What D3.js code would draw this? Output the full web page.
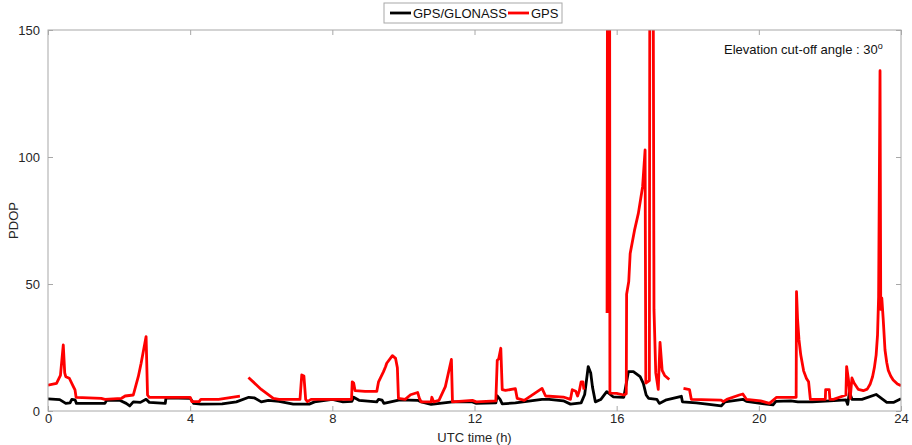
<!DOCTYPE html>
<html>
<head>
<meta charset="utf-8">
<script src="https://cdn.jsdelivr.net/npm/d3@7"></script>
<style>
  body { margin: 0; background: #fff; }
  text { font-family: "Liberation Sans", Arial, sans-serif; }
</style>
</head>
<body>
<script>
// PDOP over one day (hours, PDOP); null = data gap
var xTicks = [0, 4, 8, 12, 16, 20, 24];
var yTicks = [0, 50, 100, 150];
var seriesNames = ["GPS/GLONASS", "GPS"];
var seriesColors = ["#000000", "#ff0000"];

var gpsGlonass = [
  [0, 4.8], [0.33, 4.5], [0.5, 3.0], [0.62, 3.2], [0.67, 4.6], [0.76, 4.4], [0.8, 3.0],
  [1.6, 3.0], [1.65, 4.2], [2.0, 4.3], [2.2, 3.0], [2.3, 2.0], [2.4, 3.6], [2.6, 3.4],
  [2.76, 4.6], [2.85, 3.4], [3.3, 3.0], [3.32, 5.2], [4.0, 5.0], [4.1, 3.0], [4.3, 2.7],
  [4.9, 2.8], [5.3, 3.6], [5.65, 5.4], [5.8, 5.2], [6.0, 3.6], [6.2, 4.2], [6.5, 3.8],
  [6.9, 2.7], [7.35, 2.7], [7.5, 3.6], [8.0, 4.6], [8.3, 3.6], [8.55, 3.8], [8.6, 5.4],
  [8.75, 4.2], [9.25, 3.6], [9.3, 4.6], [9.4, 4.3], [9.45, 3.0], [9.9, 4.4], [10.4, 4.2],
  [10.5, 3.6], [10.78, 2.6], [11.38, 3.6], [11.94, 3.6], [12.05, 3.0], [12.6, 3.2],
  [12.64, 6.0], [12.72, 4.6], [12.78, 2.8], [13.15, 3.2], [13.9, 4.6], [14.1, 4.6],
  [14.5, 4.0], [14.7, 2.7], [15.0, 3.2], [15.1, 6.5], [15.2, 17.5], [15.27, 15.0],
  [15.32, 9.4], [15.4, 3.6], [15.55, 4.5], [15.72, 7.6], [15.9, 5.6], [16.2, 5.4],
  [16.33, 15.5], [16.47, 15.5], [16.66, 13.5], [16.75, 10.9], [16.83, 6.3], [16.9, 5.0],
  [17.13, 4.6], [17.2, 3.0], [17.4, 4.4], [17.82, 5.8], [17.85, 3.6], [18.24, 3.2],
  [18.6, 2.6], [18.94, 2.0], [19.05, 3.6], [19.55, 4.6], [19.65, 3.8], [20.05, 3.0],
  [20.4, 2.4], [20.48, 3.8], [20.9, 4.0], [21.1, 3.6], [21.5, 3.6], [22.0, 4.0],
  [22.45, 4.4], [22.5, 2.6], [22.55, 7.4], [22.62, 4.6], [22.9, 4.6], [23.3, 6.5],
  [23.6, 3.4], [23.8, 3.4], [24.0, 4.8]
];

var gps = [
  [0, 10.2], [0.24, 10.9], [0.35, 14], [0.43, 26], [0.47, 15], [0.5, 13.5], [0.6, 12.9],
  [0.7, 10], [0.76, 8.3], [0.79, 5.4], [1.5, 5.0], [1.6, 4.6], [2.07, 5.0], [2.17, 5.9],
  [2.4, 6.3], [2.54, 13.5], [2.62, 18.8], [2.76, 29.3], [2.8, 6.3], [2.85, 5.4],
  [4.0, 5.4], [4.05, 3.7], [4.25, 3.7], [4.3, 4.6], [4.8, 4.6], [5.4, 5.9], [5.45, null],
  [5.64, 13.2], [6.0, 8.5], [6.34, 5.0], [6.5, 4.6], [7.09, 4.6], [7.14, 14.2], [7.2, 13.8],
  [7.25, 4.6], [7.3, 3.7], [7.4, 4.6], [8.54, 4.6], [8.56, 11.5], [8.6, 11.0], [8.64, 8.0],
  [8.92, 7.7], [9.25, 7.7], [9.3, 11.5], [9.44, 15.5], [9.5, 17.5], [9.53, 18.8],
  [9.69, 21.8], [9.78, 20.7], [9.83, 17], [9.86, 5.0], [10.05, 4.6], [10.2, 6.4],
  [10.4, 7.3], [10.45, 5.0], [10.5, 3.6], [10.78, 3.6], [10.8, 5.4], [10.85, 3.6],
  [11.0, 4.2], [11.18, 9.6], [11.35, 20.3], [11.38, 3.6], [11.94, 4.2], [12.05, 3.6],
  [12.6, 4.0], [12.64, 20], [12.68, 20.5], [12.74, 24.7], [12.78, 8.4], [12.87, 8.1],
  [13.15, 8.8], [13.2, 5.0], [13.4, 4.2], [13.9, 8.9], [14.0, 5.9], [14.5, 5.5],
  [14.7, 4.6], [14.75, 8.4], [14.85, 7.8], [14.9, 5.9], [14.95, 8], [15.0, 11.5],
  [15.05, 11.5], [15.08, 8.4], [15.1, null],
  [15.73, 38.6], [15.76, 400], [15.79, 400], [15.81, 7.0], [16.0, 6.9], [16.2, 6.3],
  [16.27, 6.8], [16.28, 46], [16.34, 51], [16.38, 62], [16.5, 71], [16.61, 77.8],
  [16.73, 88.3], [16.8, 102.8], [16.82, 11], [16.92, 12], [16.95, 400], [16.99, 400],
  [17.05, 40], [17.1, 15], [17.17, 8.5], [17.22, 27], [17.28, 16], [17.35, 14],
  [17.48, 12.4], [17.5, null],
  [17.88, 8.9], [18.05, 8.4], [18.1, 4.6], [18.94, 4.3], [19.0, 3.7], [19.1, 4.6],
  [19.45, 6.3], [19.55, 6.7], [19.65, 4.6], [20.05, 4.0], [20.3, 3.0], [20.4, 4.2],
  [20.5, 5.4], [21.05, 5.4], [21.06, 47], [21.09, 36], [21.13, 28], [21.18, 22],
  [21.26, 15.8], [21.34, 12.8], [21.4, 11.5], [21.45, 4.6], [21.87, 4.6], [21.88, 8.4],
  [21.98, 8.4], [22.0, 4.6], [22.1, 4.6], [22.45, 6.3], [22.47, 17.5], [22.52, 12.5],
  [22.57, 5.0], [22.62, 13], [22.68, 11], [22.8, 8.5], [22.94, 8.0], [23.05, 8.6],
  [23.13, 10.5], [23.2, 13.5], [23.25, 17], [23.3, 22], [23.34, 30], [23.37, 45],
  [23.41, 134], [23.43, 40], [23.46, 44.5], [23.5, 36], [23.55, 24], [23.6, 19],
  [23.64, 16.1], [23.71, 13.8], [23.78, 12.2], [23.9, 10.6], [24, 10.0]
];

var width = 912, height = 445;
var margin = { left: 48, right: 11, top: 30, bottom: 34 };
var plotW = width - margin.left - margin.right;
var plotH = height - margin.top - margin.bottom;
var axisGrey = "#a8a8a8";
var labelColor = "#262626";

var svg = d3.select("body").append("svg")
  .attr("width", width)
  .attr("height", height);

var x = d3.scaleLinear().domain([0, 24]).range([0, plotW]);
var y = d3.scaleLinear().domain([0, 150]).range([plotH, 0]);

var g = svg.append("g").attr("transform", "translate(" + margin.left + "," + margin.top + ")");

g.append("clipPath").attr("id", "clip")
  .append("rect").attr("width", plotW).attr("height", plotH);

// lines
var line = d3.line()
  .defined(function (d) { return d[1] !== null; })
  .x(function (d) { return x(d[0]); })
  .y(function (d) { return y(d[1]); });

[gpsGlonass, gps].forEach(function (data, i) {
  g.append("path")
    .datum(data)
    .attr("clip-path", "url(#clip)")
    .attr("fill", "none")
    .attr("stroke", seriesColors[i])
    .attr("stroke-width", 2.8)
    .attr("stroke-linejoin", "round")
    .attr("d", line);
});

// axes, MATLAB style: ticks inside, box on
function styleAxis(sel) {
  sel.select(".domain").remove();
  sel.selectAll(".tick line").attr("stroke", axisGrey);
  sel.selectAll(".tick text")
    .attr("fill", labelColor)
    .attr("font-size", 13)
    .attr("font-family", "Liberation Sans, Arial, sans-serif");
}

g.append("g")
  .attr("transform", "translate(0," + plotH + ")")
  .call(d3.axisBottom(x).tickValues(xTicks).tickFormat(d3.format("d")).tickSizeInner(-5).tickPadding(3))
  .call(styleAxis);
g.append("g")
  .call(d3.axisTop(x).tickValues(xTicks).tickFormat("").tickSizeInner(-5))
  .call(styleAxis);
g.append("g")
  .call(d3.axisLeft(y).tickValues(yTicks).tickFormat(d3.format("d")).tickSizeInner(-5).tickPadding(8))
  .call(styleAxis);
g.append("g")
  .attr("transform", "translate(" + plotW + ",0)")
  .call(d3.axisRight(y).tickValues(yTicks).tickFormat("").tickSizeInner(-5))
  .call(styleAxis);

g.append("rect")
  .attr("width", plotW).attr("height", plotH)
  .attr("fill", "none")
  .attr("stroke", axisGrey)
  .attr("stroke-width", 1);

// axis titles
svg.append("text")
  .attr("x", margin.left + plotW / 2)
  .attr("y", 442)
  .attr("text-anchor", "middle")
  .attr("font-size", 13)
  .attr("fill", labelColor)
  .text("UTC time (h)");

svg.append("text")
  .attr("transform", "translate(18," + (margin.top + plotH / 2) + ") rotate(-90)")
  .attr("text-anchor", "middle")
  .attr("font-size", 13)
  .attr("fill", labelColor)
  .text("PDOP");

// annotation
var note = svg.append("text")
  .attr("x", 724)
  .attr("y", 54)
  .attr("font-size", 13)
  .attr("fill", "#111");
note.append("tspan").text("Elevation cut-off angle : 30");
note.append("tspan").attr("dy", -5).attr("font-size", 9).text("o");

// legend
var legend = svg.append("g").attr("transform", "translate(384,3)");
legend.append("rect")
  .attr("width", 178).attr("height", 20)
  .attr("fill", "#fff")
  .attr("stroke", axisGrey);
var legendX = [6, 124];
seriesNames.forEach(function (name, i) {
  legend.append("line")
    .attr("x1", legendX[i]).attr("x2", legendX[i] + 21)
    .attr("y1", 10).attr("y2", 10)
    .attr("stroke", seriesColors[i])
    .attr("stroke-width", 2.8);
  legend.append("text")
    .attr("x", legendX[i] + 23)
    .attr("y", 15)
    .attr("font-size", 13)
    .attr("fill", "#111")
    .text(name);
});
</script>
</body>
</html>
